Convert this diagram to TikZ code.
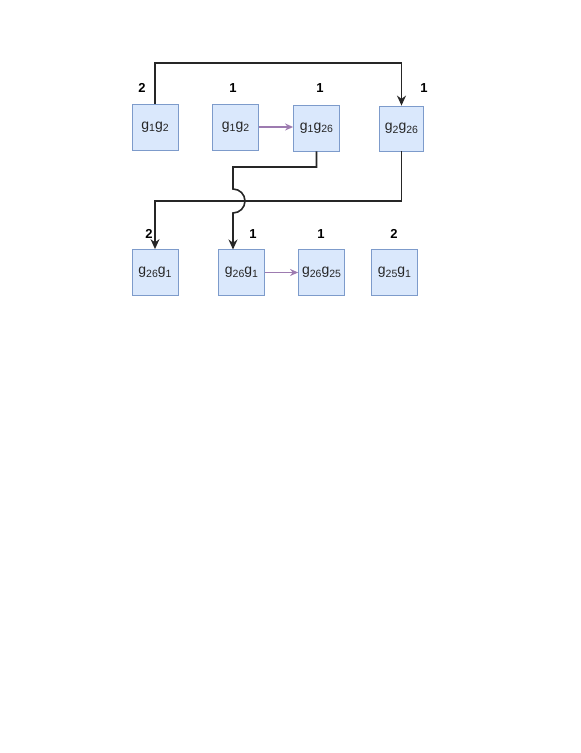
\documentclass[tikz,border=0pt]{standalone}
\usepackage{fontspec}
\setmainfont{Liberation Sans}
\usetikzlibrary{arrows.meta,calc}
\definecolor{boxfill}{HTML}{DAE8FC}
\definecolor{boxline}{HTML}{7D9BCB}
\definecolor{purp}{HTML}{9D7BB0}
\tikzset{
  gbox/.style={draw=boxline, fill=boxfill, line width=0.8pt, minimum width=46pt, minimum height=46pt, inner sep=0pt, text=black!85, font=\fontsize{14}{16}\selectfont},
  numlab/.style={font=\bfseries\fontsize{13}{15}\selectfont, inner sep=0pt},
  conn/.style={draw=black!85, line width=1.6pt, -{Stealth[length=10pt,width=9pt]}},
  pconn/.style={draw=purp, line width=1.3pt, -{Stealth[length=8pt,width=7pt]}}
}
\newcommand{\gsub}[1]{\raisebox{-0.3ex}{\fontsize{10.5}{12}\selectfont #1}}
\newcommand{\gpair}[2]{g\gsub{#1}g\gsub{#2}}
\begin{document}
\begin{tikzpicture}[x=1pt,y=1pt]
\useasboundingbox (0,0) rectangle (581,753);
% top row
\node[gbox] (b1) at (155,626) {\gpair{1}{2}};
\node[gbox] (b2) at (235.5,626) {\gpair{1}{2}};
\node[gbox] (b3) at (316.5,625) {\gpair{1}{26}};
\node[gbox, minimum width=44pt, minimum height=45pt] (b4) at (401.5,624.5) {\gpair{2}{26}};
% bottom row
\node[gbox] (b5) at (155,480.5) {\gpair{26}{1}};
\node[gbox] (b6) at (241.5,480.5) {\gpair{26}{1}};
\node[gbox] (b7) at (321.5,480.5) {\gpair{26}{25}};
\node[gbox] (b8) at (394.5,480.5) {\gpair{25}{1}};
% labels
\node[numlab] (l1) at (142,665) {2};
\node[numlab] (l2) at (233,665) {1};
\node[numlab] (l3) at (320,665) {1};
\node[numlab] (l4) at (424,665) {1};
\node[numlab] (l5) at (149,519) {2};
\node[numlab] (l6) at (253,519) {1};
\node[numlab] (l7) at (321,519) {1};
\node[numlab] (l8) at (394,519) {2};
% connectors
\coordinate (t1) at (155,690);
\coordinate (t2) at (401.5,690);
\draw[conn] (b1.north) -- (t1) -- (t2) -- (b4.north);
\coordinate (m1) at (316.5,586);
\coordinate (m2) at (233,586);
\coordinate (m3) at (233,564);
\coordinate (m4) at (233,503.5);
\draw[conn] (b3.south) -- (m1) -- (m2) -- (m3) arc[start angle=90, end angle=-90, radius=12] -- (m4);
\coordinate (h1) at (401.5,552);
\coordinate (h2) at (155,552);
\draw[conn] (b4.south) -- (h1) -- (h2) -- (b5.north);
\draw[pconn] (b2.east) -- (b3.west |- b2.east);
\draw[pconn] (b6.east) -- (b7.west);
\end{tikzpicture}
\end{document}
